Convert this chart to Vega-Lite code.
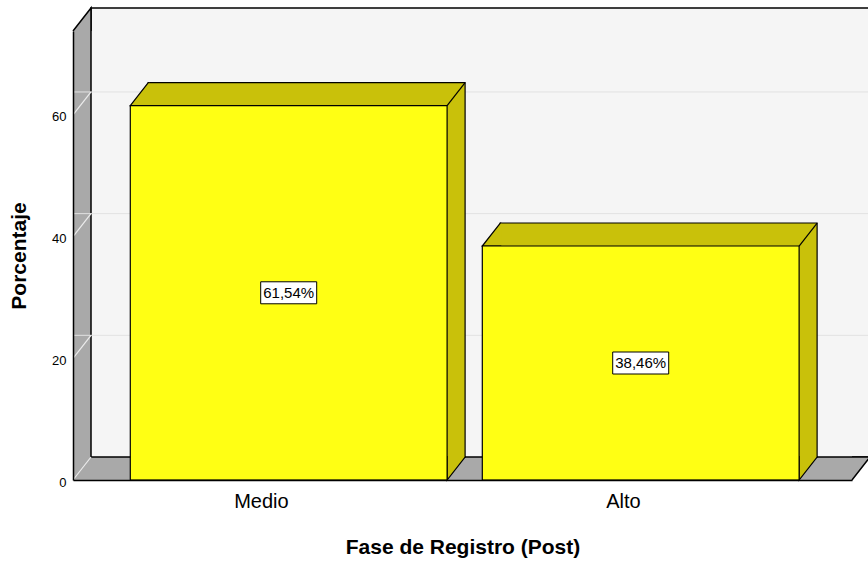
{
  "$schema": "https://vega.github.io/schema/vega-lite/v6.json",
  "width": 779,
  "height": 449,
  "autosize": {"type": "none"},
  "padding": {"left": 73, "top": 31, "right": 16, "bottom": 85},
  "background": "white",
  "config": {
    "font": "Liberation Sans",
    "view": {"fill": "#a9a9a9", "stroke": null},
    "axis": {"labelFont": "Liberation Sans", "titleFont": "Liberation Sans", "labelColor": "#000", "titleColor": "#000"}
  },
  "datasets": {
    "fases": [
      {"fase": "Medio", "pct": 61.54},
      {"fase": "Alto", "pct": 38.46}
    ],
    "niveles": [{"v": 0}, {"v": 20}, {"v": 40}, {"v": 60}],
    "marco": [{"pared": "fondo"}]
  },
  "data": {"name": "fases"},
  "layer": [
    {
      "data": {"name": "marco"},
      "mark": {"type": "rect", "fill": "#f5f5f5", "stroke": "#000", "strokeWidth": 1.5, "xOffset": 18, "x2Offset": 18, "yOffset": -23, "y2Offset": -23},
      "encoding": {
        "x": {"value": 0},
        "x2": {"value": "width"},
        "y": {"datum": 0, "type": "quantitative", "scale": {"domain": [0, 73.8], "nice": false}},
        "y2": {"datum": 73.8}
      }
    },
    {
      "data": {"name": "niveles"},
      "transform": [{"filter": "datum.v > 0"}],
      "mark": {"type": "rule", "color": "#e2e2e2", "strokeWidth": 1, "xOffset": 18, "x2Offset": 18, "yOffset": -23, "y2Offset": -23},
      "encoding": {
        "y": {"field": "v", "type": "quantitative", "scale": {"domain": [0, 73.8], "nice": false}}
      }
    },
    {
      "data": {"name": "niveles"},
      "mark": {"type": "point", "shape": "M0,0L18,-23", "size": 4, "filled": false, "stroke": "#ececec", "strokeWidth": 1.2, "opacity": 1},
      "encoding": {
        "x": {"value": 0},
        "y": {"field": "v", "type": "quantitative", "scale": {"domain": [0, 73.8], "nice": false}}
      }
    },
    {
      "data": {"name": "marco"},
      "mark": {"type": "point", "shape": "M0,0L18,-23L18,0", "size": 4, "filled": true, "fill": "#a9a9a9", "stroke": "#000", "strokeWidth": 1.5, "opacity": 1},
      "encoding": {
        "x": {"value": 0},
        "y": {"datum": 73.8, "type": "quantitative", "scale": {"domain": [0, 73.8], "nice": false}}
      }
    },
    {
      "data": {"name": "marco"},
      "mark": {"type": "point", "shape": "M0,-23L18,-23L0,0", "size": 4, "filled": true, "fill": "#a9a9a9", "stroke": "#000", "strokeWidth": 1.5, "opacity": 1},
      "encoding": {
        "x": {"value": "width"},
        "y": {"datum": 0, "type": "quantitative", "scale": {"domain": [0, 73.8], "nice": false}}
      }
    },
    {
      "mark": {"type": "rect", "fill": "#c9c10a", "stroke": "#000", "strokeWidth": 1.2, "xOffset": 18, "yOffset": -23, "y2Offset": -23},
      "encoding": {
        "x": {"field": "fase", "type": "nominal", "sort": null, "scale": {"paddingInner": 0.1, "paddingOuter": 0.1565, "align": 0.52}},
        "y": {"field": "pct", "type": "quantitative", "scale": {"domain": [0, 73.8], "nice": false}},
        "y2": {"datum": 0}
      }
    },
    {
      "mark": {"type": "point", "shape": "M19,0L0,0L18,-23L19,-23", "size": 4, "filled": true, "fill": "#c9c10a", "stroke": "#000", "strokeWidth": 1.2, "opacity": 1},
      "encoding": {
        "x": {"field": "fase", "type": "nominal", "sort": null, "bandPosition": 0, "scale": {"paddingInner": 0.1, "paddingOuter": 0.1565, "align": 0.52}},
        "y": {"field": "pct", "type": "quantitative", "scale": {"domain": [0, 73.8], "nice": false}}
      }
    },
    {
      "mark": {"type": "point", "shape": "M0,-24L0,0L18,-23L18,-24", "size": 4, "filled": true, "fill": "#c9c10a", "stroke": "#000", "strokeWidth": 1.2, "opacity": 1},
      "encoding": {
        "x": {"field": "fase", "type": "nominal", "sort": null, "bandPosition": 1, "scale": {"paddingInner": 0.1, "paddingOuter": 0.1565, "align": 0.52}},
        "y": {"datum": 0, "type": "quantitative", "scale": {"domain": [0, 73.8], "nice": false}}
      }
    },
    {
      "mark": {"type": "point", "shape": "M0,0L18,-23", "size": 4, "filled": false, "stroke": "#000", "strokeWidth": 1.2, "opacity": 1},
      "encoding": {
        "x": {"field": "fase", "type": "nominal", "sort": null, "bandPosition": 1, "scale": {"paddingInner": 0.1, "paddingOuter": 0.1565, "align": 0.52}},
        "y": {"field": "pct", "type": "quantitative", "scale": {"domain": [0, 73.8], "nice": false}}
      }
    },
    {
      "mark": {"type": "rect", "fill": "#ffff14", "stroke": "#000", "strokeWidth": 1.2},
      "encoding": {
        "x": {
          "field": "fase", "type": "nominal", "sort": null,
          "scale": {"paddingInner": 0.1, "paddingOuter": 0.1565, "align": 0.52},
          "axis": {"title": "Fase de Registro (Post)", "labelAngle": 0, "ticks": false, "grid": false, "domainColor": "#000", "domainWidth": 1.5, "labelFontSize": 20, "labelPadding": 21, "titleFontSize": 21, "titleFontWeight": "bold", "titlePadding": 25, "zindex": 1}
        },
        "y": {
          "field": "pct", "type": "quantitative",
          "scale": {"domain": [0, 73.8], "nice": false},
          "axis": {"title": "Porcentaje", "values": [0, 20, 40, 60], "ticks": false, "grid": false, "domainColor": "#000", "domainWidth": 1.5, "labelFontSize": 13, "labelPadding": 7, "labelOffset": 2, "titleFontSize": 21, "titleFontWeight": "bold", "titlePadding": 22, "zindex": 1}
        },
        "y2": {"datum": 0}
      }
    },
    {
      "transform": [{"calculate": "datum.pct / 2", "as": "medio"}],
      "mark": {"type": "point", "shape": "M-28,-11H28V11H-28Z", "size": 4, "filled": true, "fill": "#fff", "stroke": "#000", "strokeWidth": 1, "opacity": 1},
      "encoding": {
        "x": {"field": "fase", "type": "nominal", "sort": null, "scale": {"paddingInner": 0.1, "paddingOuter": 0.1565, "align": 0.52}},
        "y": {"field": "medio", "type": "quantitative", "scale": {"domain": [0, 73.8], "nice": false}}
      }
    },
    {
      "transform": [
        {"calculate": "datum.pct / 2", "as": "medio"},
        {"calculate": "replace(format(datum.pct, '.2f'), '.', ',') + '%'", "as": "etiqueta"}
      ],
      "mark": {"type": "text", "fontSize": 15, "color": "#000", "align": "center", "baseline": "middle"},
      "encoding": {
        "x": {"field": "fase", "type": "nominal", "sort": null, "scale": {"paddingInner": 0.1, "paddingOuter": 0.1565, "align": 0.52}},
        "y": {"field": "medio", "type": "quantitative", "scale": {"domain": [0, 73.8], "nice": false}},
        "text": {"field": "etiqueta"}
      }
    }
  ]
}
